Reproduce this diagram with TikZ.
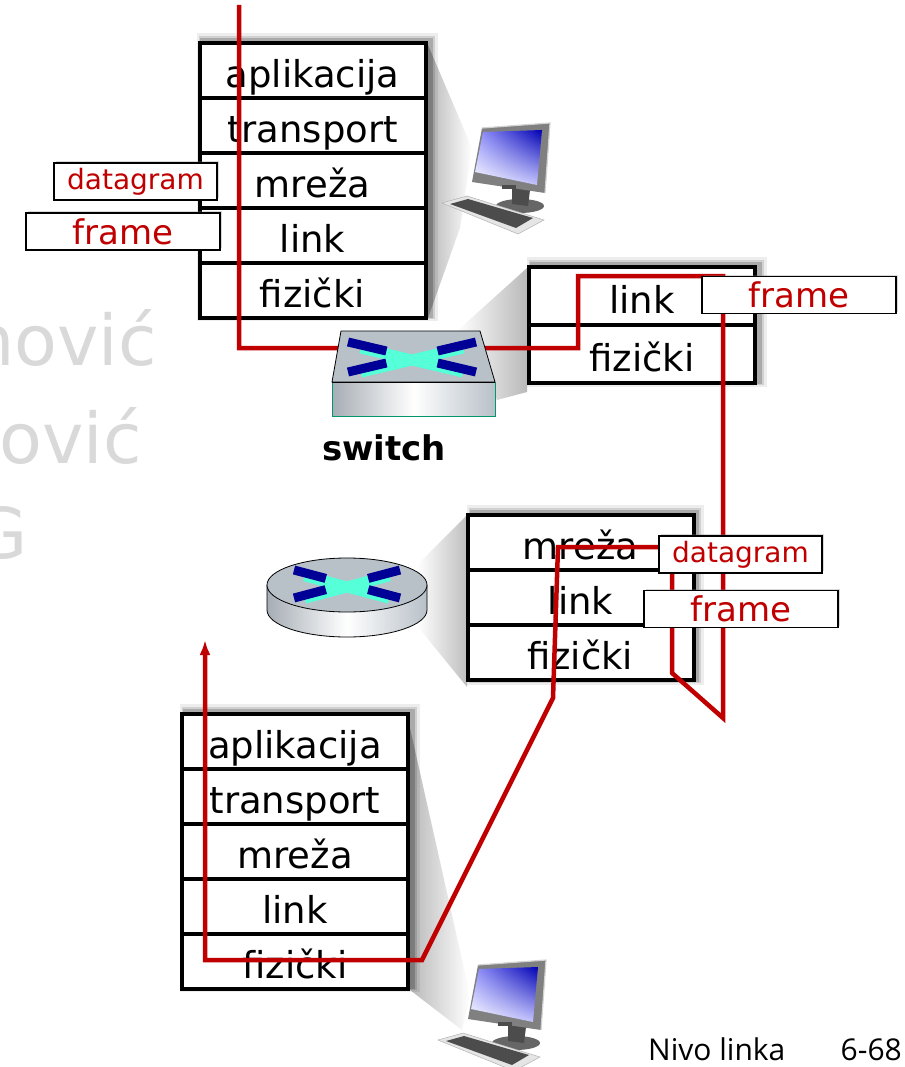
\documentclass[tikz,border=0pt]{standalone}
\usepackage{fontspec}
\setmainfont{DejaVu Sans}
\newfontfamily\footfont{Open Sans}
\usetikzlibrary{positioning,calc,shadows,shadings,arrows.meta}

\definecolor{linkred}{RGB}{192,0,0}
\definecolor{boxgray}{RGB}{184,192,200}
\definecolor{crossblue}{RGB}{0,0,150}
\definecolor{crosscyan}{RGB}{85,255,215}
\definecolor{rimteal}{RGB}{0,150,110}

\newcommand{\layerfont}{\fontsize{37}{40}\selectfont}
\newcommand{\tagfont}{\fontsize{34}{36}\selectfont}
\newcommand{\smalltagfont}{\fontsize{28}{30}\selectfont}
\newcommand{\wmfont}{\fontsize{70}{76}\selectfont}

% soft shadow behind a protocol stack, given its two corners
\newcommand{\stackshadow}[2]{%
  \fill[black, opacity=.07] ($#1+(0,-8)$) rectangle ($#2+(10,2)$);
  \fill[black, opacity=.12] ($#1+(2,-5)$) rectangle ($#2+(7,0)$);
  \fill[black, opacity=.18] ($#1+(3,-3)$) rectangle ($#2+(5,-1)$);
}

\begin{document}
\begin{tikzpicture}[x=1pt, y=-1pt,
  layer/.style={draw, line width=4pt, fill=white, outer sep=0pt, inner sep=0pt,
    minimum width=226pt, minimum height=55pt, text height=34pt, text depth=0pt,
    font=\layerfont},
  tag/.style={draw, line width=1.2pt, fill=white, inner sep=0pt, text=linkred,
    minimum height=37pt, drop shadow={opacity=.3, shadow xshift=2pt, shadow yshift=2pt}},
  route/.style={draw=linkred, line width=4.5pt},
  halo/.style={left color=gray!55, right color=white},
  metal/.style={left color=boxgray!90!black, right color=boxgray, middle color=white},
  wm/.style={text=gray!30, font=\wmfont, inner sep=0pt},
  pics/computer/.style={code={
    % base and neck
    \fill[black!60] (38,78) ellipse [x radius=24, y radius=7];
    \fill[black!70] (30,58) -- (48,62) -- (46,78) -- (30,76) -- cycle;
    % monitor
    \fill[black!50] (0,0) -- (68,-5) -- (63,65) -- (-10,54) -- cycle;
    \draw[gray!35, line width=1.2pt] (0,0) -- (68,-5) -- (63,65);
    \fill[black!70] (20,57) rectangle (34,61);
    \shade[upper left=blue!40, upper right=blue!70!black, lower left=white, lower right=blue!25]
      (1,4) -- (60,2) -- (55,57) -- (-7,44) -- cycle;
    % keyboard
    \fill[gray!20, draw=gray!60, line width=.5pt] (-40,75) -- (-15,68) -- (62,92) -- (36,106) -- cycle;
    \fill[black!70] (-32,76) -- (-14,71) -- (51,90) -- (34,100) -- cycle;
  }},
  pics/xcross/.style 2 args={code={
    \draw[crosscyan, line width=11pt] (-.8*#1,-.8*#2+3) -- (.8*#1,.8*#2+3) (.8*#1,-.8*#2+3) -- (-.8*#1,.8*#2+3);
    \draw[crossblue, line width=9pt] (-#1,-#2) -- (-.4*#1,-.4*#2) (#1,#2) -- (.4*#1,.4*#2)
      (#1,-#2) -- (.4*#1,-.4*#2) (-#1,#2) -- (-.4*#1,.4*#2);
  }}]
\useasboundingbox (0,0) rectangle (904,1067);
\clip (0,0) rectangle (904,1067);

% watermark
\node[wm, anchor=base east] (wm1) at (157,365) {nović};
\node[wm, anchor=base east] (wm2) at (142,463) {ović};
\node[wm, anchor=base east] (wm3) at (28,558) {G};

% zoom wedges
\shade[halo] (428,45) -- (472,148) -- (460,228) -- (428,318) -- cycle;
\shade[left color=white, right color=gray!55] (527,268) -- (527,392) -- (497,400) -- (457,331) -- cycle;
\shade[left color=white, right color=gray!50] (467,515) -- (467,687) -- (418,627) -- (417,565) -- cycle;
\shade[halo] (410,728) -- (470,995) -- (462,1030) -- (410,990) -- cycle;

% hosts
\pic (pc1) at (482,128) {computer};
\pic (pc2) at (478,965) {computer};

% protocol stacks
\stackshadow{(197,41)}{(428,319)}
\stackshadow{(527,265)}{(757,385)}
\stackshadow{(467,513)}{(694,683)}
\stackshadow{(180,712)}{(410,990)}

\node[layer] (h1a) at (312.5,70.4) {aplikacija};
\node[layer, below=0pt of h1a] (h1t) {transport};
\node[layer, below=0pt of h1t] (h1m) {mreža};
\node[layer, below=0pt of h1m] (h1l) {link};
\node[layer, below=0pt of h1l] (h1f) {fizički};

\node[layer, minimum height=58pt] (swl) at (642,296) {link};
\node[layer, minimum height=58pt, below=0pt of swl] (swf) {fizički};

\node[layer] (rtm) at (580.5,542.7) {mreža};
\node[layer, below=0pt of rtm] (rtl) {link};
\node[layer, below=0pt of rtl] (rtf) {fizički};

\node[layer] (h2a) at (295,741.4) {aplikacija};
\node[layer, below=0pt of h2a] (h2t) {transport};
\node[layer, below=0pt of h2t] (h2m) {mreža};
\node[layer, below=0pt of h2m] (h2l) {link};
\node[layer, below=0pt of h2l] (h2f) {fizički};

% path of the data
\coordinate (src) at (239,5);
\coordinate (dst) at (205,640);
\draw[route, -{Latex[length=15pt, width=11pt]}] (src) -- (239,348) -- (578,348) -- (578,276)
  -- (723,276) -- (723,718) -- (672,673) -- (672,547) -- (558,547) -- (553,698)
  -- (422,960) -- (205,960) -- (dst);

% switch
\coordinate (sw) at (413,374);
\fill[boxgray, draw=black, line width=.8pt] (341,331) -- (480,331) -- (495,382) -- (332,382) -- cycle;
\shade[metal] (332,382) rectangle (495,416);
\draw[rimteal, line width=.8pt] (332,382) rectangle (495,416);
\draw[black, line width=.8pt] (332,382) -- (495,382);
\pic at (412,357) {xcross={64}{15}};
\node[font=\fontsize{34}{36}\selectfont\bfseries] (swname) at (384,448) {switch};

% router
\coordinate (rt) at (347,597);
\shade[metal]
  (267,585) -- (267,610) arc[start angle=180, end angle=0, x radius=80, y radius=27]
  -- (427,585) -- cycle;
\draw[line width=.8pt] (267,585) -- (267,610) arc[start angle=180, end angle=0, x radius=80, y radius=27] -- (427,585);
\filldraw[fill=boxgray, line width=.8pt] (347,585) ellipse [x radius=80, y radius=27];
\pic at (347,584) {xcross={53}{14}};

% frame and datagram tags
\node[tag, minimum width=163pt, font=\smalltagfont] (dg1) at (135.5,181.5) {datagram};
\node[tag, minimum width=194pt, font=\tagfont] (fr1) at (123,231.5) {frame};
\node[tag, minimum width=194pt, font=\tagfont] (fr2) at (799,295) {frame};
\node[tag, minimum width=163pt, font=\smalltagfont] (dg2) at (740.5,554.5) {datagram};
\node[tag, minimum width=194pt, font=\tagfont] (fr3) at (741,609) {frame};

% slide footer
\node[anchor=base west, inner sep=0pt, font=\footfont\fontsize{30}{32}\selectfont] (foot) at (648,1060) {Nivo linka};
\node[anchor=base east, inner sep=0pt, font=\footfont\fontsize{30}{32}\selectfont] (page) at (902,1060) {6-68};
\end{tikzpicture}
\end{document}
